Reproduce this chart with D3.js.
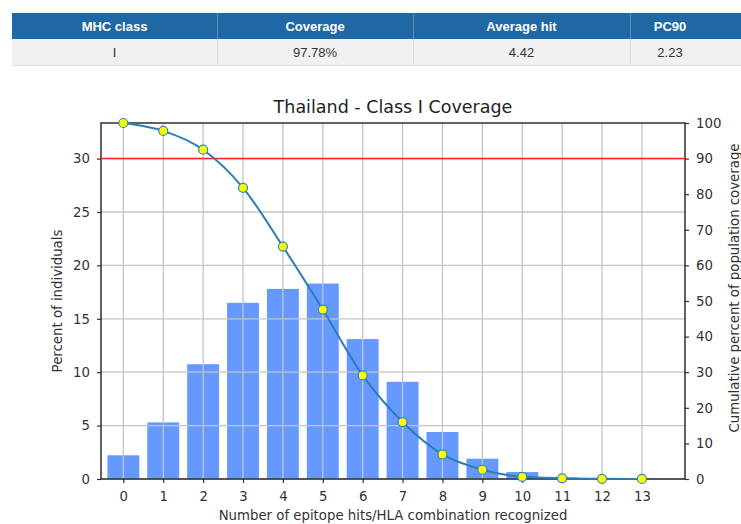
<!DOCTYPE html>
<html>
<head>
<script src="https://d3js.org/d3.v7.min.js"></script>
<style>
  body { margin: 0; background: #fff; }
  svg { display: block; }
  .tick text { font-family: "DejaVu Sans", sans-serif; font-size: 13.3px; fill: #333; }
  .axis-label { font-family: "DejaVu Sans", sans-serif; font-size: 13.3px; fill: #333; }
  .chart-title { font-family: "DejaVu Sans", sans-serif; font-size: 17.5px; fill: #222; }
  .tbl { font-family: "Liberation Sans", Arial, sans-serif; font-size: 13px; }
</style>
</head>
<body>
<script>
// summary table
var tableHeaders = ["MHC class", "Coverage", "Average hit", "PC90"];
var tableValues = ["I", "97.78%", "4.42", "2.23"];

// histogram + cumulative curve
var hits = [0, 1, 2, 3, 4, 5, 6, 7, 8, 9, 10, 11, 12, 13];
var percentIndividuals = [2.22, 5.3, 10.75, 16.5, 17.8, 18.3, 13.1, 9.1, 4.4, 1.9, 0.65, 0.15, 0.03, 0.01];
var cumulativeCoverage = [100, 97.78, 92.5, 81.8, 65.3, 47.6, 29.1, 16.0, 6.9, 2.6, 0.6, 0.2, 0.05, 0.01];
var leftTicks = [0, 5, 10, 15, 20, 25, 30];
var rightTicks = [0, 10, 20, 30, 40, 50, 60, 70, 80, 90, 100];
var threshold = 90;

var W = 741, H = 524;
var svg = d3.select("body").append("svg").attr("width", W).attr("height", H);

// ---- table ----
var colEdges = [12, 217, 413, 630, 760];
var tbl = svg.append("g").attr("class", "tbl");
tbl.append("rect").attr("x", 12).attr("y", 13).attr("width", W).attr("height", 26).attr("fill", "#2068a3");
tbl.append("rect").attr("x", 12).attr("y", 39).attr("width", W).attr("height", 26).attr("fill", "#f1f1f1");
tbl.append("line").attr("x1", 12).attr("x2", W).attr("y1", 65.5).attr("y2", 65.5).attr("stroke", "#dcdcdc");
colEdges.slice(1, 4).forEach(function(cx) {
  tbl.append("line").attr("x1", cx + 0.5).attr("x2", cx + 0.5).attr("y1", 13).attr("y2", 39).attr("stroke", "#5a8fc0");
  tbl.append("line").attr("x1", cx + 0.5).attr("x2", cx + 0.5).attr("y1", 39).attr("y2", 65).attr("stroke", "#dcdcdc");
});
tableHeaders.forEach(function(h, i) {
  var cx = i < 3 ? (colEdges[i] + colEdges[i + 1]) / 2 : 670;
  tbl.append("text").attr("x", cx).attr("y", 30.5).attr("text-anchor", "middle")
    .attr("fill", "#fff").attr("font-weight", "bold").text(h);
  tbl.append("text").attr("x", cx).attr("y", 57).attr("text-anchor", "middle")
    .attr("fill", "#333").text(tableValues[i]);
});

// ---- chart ----
var plot = { left: 101, right: 685, top: 123, bottom: 479 };

var x = d3.scaleLinear().domain([-0.56, 14.08]).range([plot.left, plot.right]);
var yL = d3.scaleLinear().domain([0, 100 / 3]).range([plot.bottom, plot.top]);
var yR = d3.scaleLinear().domain([0, 100]).range([plot.bottom, plot.top]);
var barW = x(0.8) - x(0);

// bars
svg.append("g").selectAll("rect")
  .data(hits)
  .enter().append("rect")
  .attr("x", function(d) { return x(d) - barW / 2; })
  .attr("width", barW)
  .attr("y", function(d, i) { return yL(percentIndividuals[i]); })
  .attr("height", function(d, i) { return plot.bottom - yL(percentIndividuals[i]); })
  .attr("fill", "#6699ff");

// grid (drawn over the bars, like matplotlib)
var grid = svg.append("g").attr("stroke", "#c4c4c4").attr("stroke-width", 1.3);
hits.forEach(function(d) {
  grid.append("line").attr("x1", x(d)).attr("x2", x(d)).attr("y1", plot.top).attr("y2", plot.bottom);
});
leftTicks.forEach(function(d) {
  grid.append("line").attr("x1", plot.left).attr("x2", plot.right).attr("y1", yL(d)).attr("y2", yL(d));
});

// axes
var xAxis = svg.append("g").attr("transform", "translate(0," + plot.bottom + ")")
  .call(d3.axisBottom(x).tickValues(hits).tickSize(4).tickPadding(9).tickFormat(d3.format("d")));
var lAxis = svg.append("g").attr("transform", "translate(" + plot.left + ",0)")
  .call(d3.axisLeft(yL).tickValues(leftTicks).tickSize(4).tickPadding(7));
var rAxis = svg.append("g").attr("transform", "translate(" + plot.right + ",0)")
  .call(d3.axisRight(yR).tickValues(rightTicks).tickSize(4).tickPadding(7));
[xAxis, lAxis, rAxis].forEach(function(a) {
  a.select(".domain").remove();
  a.selectAll(".tick line").attr("stroke", "#333").attr("stroke-width", 1.2);
});

// frame
svg.append("rect").attr("x", plot.left).attr("y", plot.top)
  .attr("width", plot.right - plot.left).attr("height", plot.bottom - plot.top)
  .attr("fill", "none").attr("stroke", "#222").attr("stroke-width", 1.4);

// threshold line
svg.append("line").attr("x1", plot.left).attr("x2", plot.right)
  .attr("y1", yR(threshold)).attr("y2", yR(threshold))
  .attr("stroke", "#ff2020").attr("stroke-width", 1.5);

// cumulative curve
var line = d3.line()
  .x(function(d) { return x(d); })
  .y(function(d, i) { return yR(cumulativeCoverage[i]); })
  .curve(d3.curveMonotoneX);
svg.append("path").datum(hits).attr("d", line)
  .attr("fill", "none").attr("stroke", "#2a7db5").attr("stroke-width", 2);
svg.append("g").selectAll("circle")
  .data(hits)
  .enter().append("circle")
  .attr("cx", function(d) { return x(d); })
  .attr("cy", function(d, i) { return yR(cumulativeCoverage[i]); })
  .attr("r", 4.5)
  .attr("fill", "#ffff00").attr("stroke", "#2a8ab5").attr("stroke-width", 1.2);

// labels
var midX = (plot.left + plot.right) / 2;
svg.append("text").attr("class", "chart-title").attr("x", midX).attr("y", 113)
  .attr("text-anchor", "middle").text("Thailand - Class I Coverage");
svg.append("text").attr("class", "axis-label").attr("x", midX).attr("y", 520)
  .attr("text-anchor", "middle").text("Number of epitope hits/HLA combination recognized");
svg.append("text").attr("class", "axis-label").attr("text-anchor", "middle")
  .attr("transform", "translate(62," + (plot.top + plot.bottom) / 2 + ") rotate(-90)")
  .text("Percent of individuals");
svg.append("text").attr("class", "axis-label").attr("text-anchor", "middle")
  .attr("transform", "translate(739,288) rotate(-90)")
  .text("Cumulative percent of population coverage");
</script>
</body>
</html>
